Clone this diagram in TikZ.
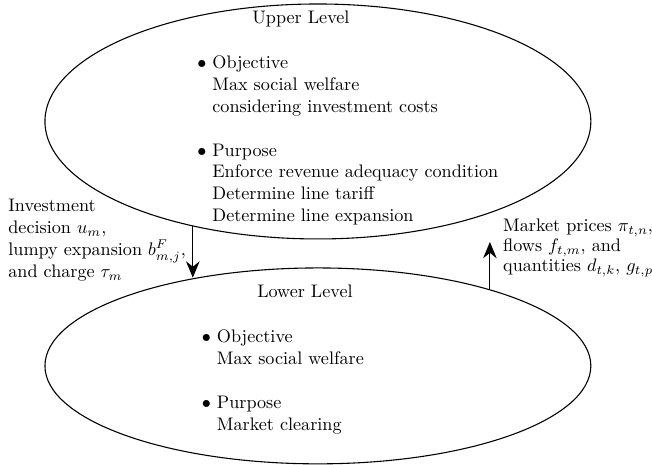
\documentclass[tikz,border=0pt]{standalone}
\usetikzlibrary{shapes.geometric,arrows.meta}
\begin{document}
\begin{tikzpicture}[
    level/.style={draw,semithick,ellipse,inner sep=0pt,minimum width=10.566cm},
    flow/.style={semithick,-{Stealth[length=9pt,width=7.5pt,inset=3pt]}},
    items/.style={anchor=base west,inner sep=0pt,align=left}
  ]
    \useasboundingbox (0,0) rectangle (12.62,-9.0);
    % the two levels
    \node[level,minimum height=4.548cm] (upper) at (6.153,-2.351) {};
    \node[level,minimum height=3.792cm] (lower) at (6.153,-7.082) {};
    \node[anchor=base] (uptitle) at (5.824,-0.464) {Upper Level};
    \node[anchor=base] (lowtitle) at (5.902,-5.766) {Lower Level};
    \node[items] (upitems) at (3.812,-1.335) {\begin{tabular}[t]{@{}l@{\hspace{3.3pt}}l@{}}
        $\bullet$ & Objective\\
                  & Max social welfare\\
                  & considering investment costs\\[12pt]
        $\bullet$ & Purpose\\
                  & Enforce revenue adequacy condition\\
                  & Determine line tariff\\
                  & Determine line expansion
      \end{tabular}};
    \node[items] (lowitems) at (3.901,-6.637) {\begin{tabular}[t]{@{}l@{\hspace{3.3pt}}l@{}}
        $\bullet$ & Objective\\
                  & Max social welfare\\[12pt]
        $\bullet$ & Purpose\\
                  & Market clearing
      \end{tabular}};
    % exchange between the levels
    \coordinate (ptip) at (9.462,-4.683);
    \draw[flow] (upper.220.6) -- (upper.220.6 |- lower.144.85);
    \draw[flow] (lower.24.07) -- (lower.24.07 |- ptip);
    \node[items] (downlabel) at (0.155,-4.102) {\begin{tabular}[t]{@{}l@{}}
        Investment\\
        decision $u_m$,\\
        lumpy expansion $b^F_{m,j}$,\\
        and charge $\tau_m$
      \end{tabular}};
    \node[items,font=\fontsize{10pt}{11pt}\selectfont] (uplabel) at (9.733,-4.489) {\begin{tabular}[t]{@{}l@{}}
        Market prices $\pi_{t,n}$,\\
        flows $f_{t,m}$, and\\
        quantities $d_{t,k}$, $g_{t,p}$
      \end{tabular}};
\end{tikzpicture}
\end{document}
